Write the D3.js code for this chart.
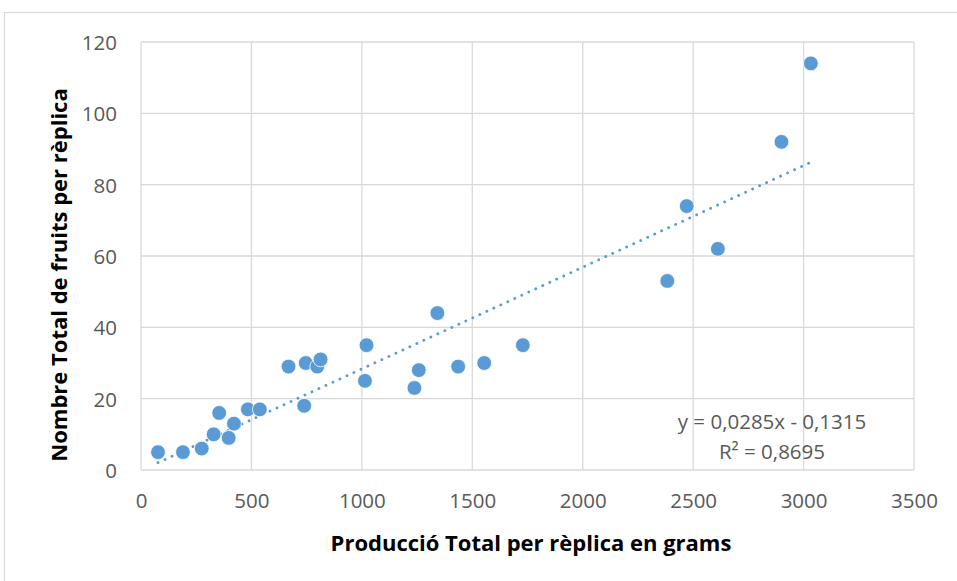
<!DOCTYPE html>
<html>
<head>
<meta charset="utf-8">
<script src="https://cdn.jsdelivr.net/npm/d3@7"></script>
<style>
  body { margin: 0; background: #fff; }
  text { font-family: "Open Sans", "Noto Sans", sans-serif; }
</style>
</head>
<body>
<svg id="chart" width="957" height="581"></svg>
<script>
// grams per replica
var produccio = [77, 190, 275, 329, 354, 397, 421, 484, 538, 668, 746, 798, 813, 739,
  1021, 1014, 1238, 1258, 1342, 1436, 1554, 1729, 2383, 2471, 2612, 2900, 3033];
// number of fruits per replica
var fruits = [5, 5, 6, 10, 16, 9, 13, 17, 17, 29, 30, 29, 31, 18,
  35, 25, 23, 28, 44, 29, 30, 35, 53, 74, 62, 92, 114];
var xTicks = [0, 500, 1000, 1500, 2000, 2500, 3000, 3500];
var yTicks = [0, 20, 40, 60, 80, 100, 120];
var slope = 0.0285, intercept = -0.1315;
var eqLabel = "y = 0,0285x - 0,1315";
var r2Label = "R² = 0,8695";

var svg = d3.select("#chart");
var pLeft = 141, pRight = 914, pTop = 42, pBottom = 470;

var x = d3.scaleLinear().domain([0, 3500]).range([pLeft, pRight]);
var y = d3.scaleLinear().domain([0, 120]).range([pBottom, pTop]);

// chart frame
svg.append("rect")
  .attr("x", 4.5).attr("y", 12.5).attr("width", 1000).attr("height", 1000)
  .attr("fill", "none").attr("stroke", "#d9d9d9").attr("stroke-width", 1.2);

// gridlines
svg.append("g").selectAll("line").data(yTicks).enter().append("line")
  .attr("x1", pLeft).attr("x2", pRight)
  .attr("y1", function(d) { return y(d); }).attr("y2", function(d) { return y(d); })
  .attr("stroke", "#d9d9d9").attr("stroke-width", 1.3);
svg.append("g").selectAll("line").data(xTicks).enter().append("line")
  .attr("y1", pTop).attr("y2", pBottom)
  .attr("x1", function(d) { return x(d); }).attr("x2", function(d) { return x(d); })
  .attr("stroke", "#d9d9d9").attr("stroke-width", 1.3);

// tick labels via axes, lines hidden
var fmt = function(d) { return d; };
var gx = svg.append("g").attr("transform", "translate(0," + pBottom + ")")
  .call(d3.axisBottom(x).tickValues(xTicks).tickFormat(fmt).tickSize(0));
var gy = svg.append("g").attr("transform", "translate(" + pLeft + ",0)")
  .call(d3.axisLeft(y).tickValues(yTicks).tickFormat(fmt).tickSize(0).tickPadding(24));
[gx, gy].forEach(function(g) {
  g.select(".domain").remove();
  g.selectAll("text").attr("font-size", 20.5).attr("fill", "#595959")
    .attr("font-family", "'Open Sans', sans-serif");
});
gx.selectAll("text").attr("y", 38).attr("dy", null);
gy.selectAll("text").attr("dy", "0.37em");

// trendline
var xmin = d3.min(produccio), xmax = d3.max(produccio);
svg.append("line")
  .attr("x1", x(xmin)).attr("y1", y(slope * xmin + intercept))
  .attr("x2", x(xmax)).attr("y2", y(slope * xmax + intercept))
  .attr("stroke", "#5b9bd5").attr("stroke-width", 2.8)
  .attr("stroke-linecap", "round").attr("stroke-dasharray", "0.1 7.6");

// points
svg.append("g").selectAll("circle").data(produccio).enter().append("circle")
  .attr("cx", function(d) { return x(d); })
  .attr("cy", function(d, i) { return y(fruits[i]); })
  .attr("r", 7.4)
  .attr("fill", "#5b9bd5").attr("stroke", "#ffffff").attr("stroke-width", 0.8);

// equation
svg.append("text").attr("x", 772).attr("y", 429).attr("text-anchor", "middle")
  .attr("font-size", 20.5).attr("fill", "#595959").text(eqLabel);
svg.append("text").attr("x", 772).attr("y", 459).attr("text-anchor", "middle")
  .attr("font-size", 20.5).attr("fill", "#595959").text(r2Label);

// axis titles
svg.append("text").attr("x", 531).attr("y", 551).attr("text-anchor", "middle")
  .attr("font-size", 22).attr("font-weight", "bold").attr("fill", "#000")
  .text("Producció Total per rèplica en grams");
svg.append("text").attr("transform", "translate(67,275) rotate(-90)")
  .attr("text-anchor", "middle")
  .attr("font-size", 22).attr("font-weight", "bold").attr("fill", "#000")
  .text("Nombre Total de fruits per rèplica");
</script>
</body>
</html>
